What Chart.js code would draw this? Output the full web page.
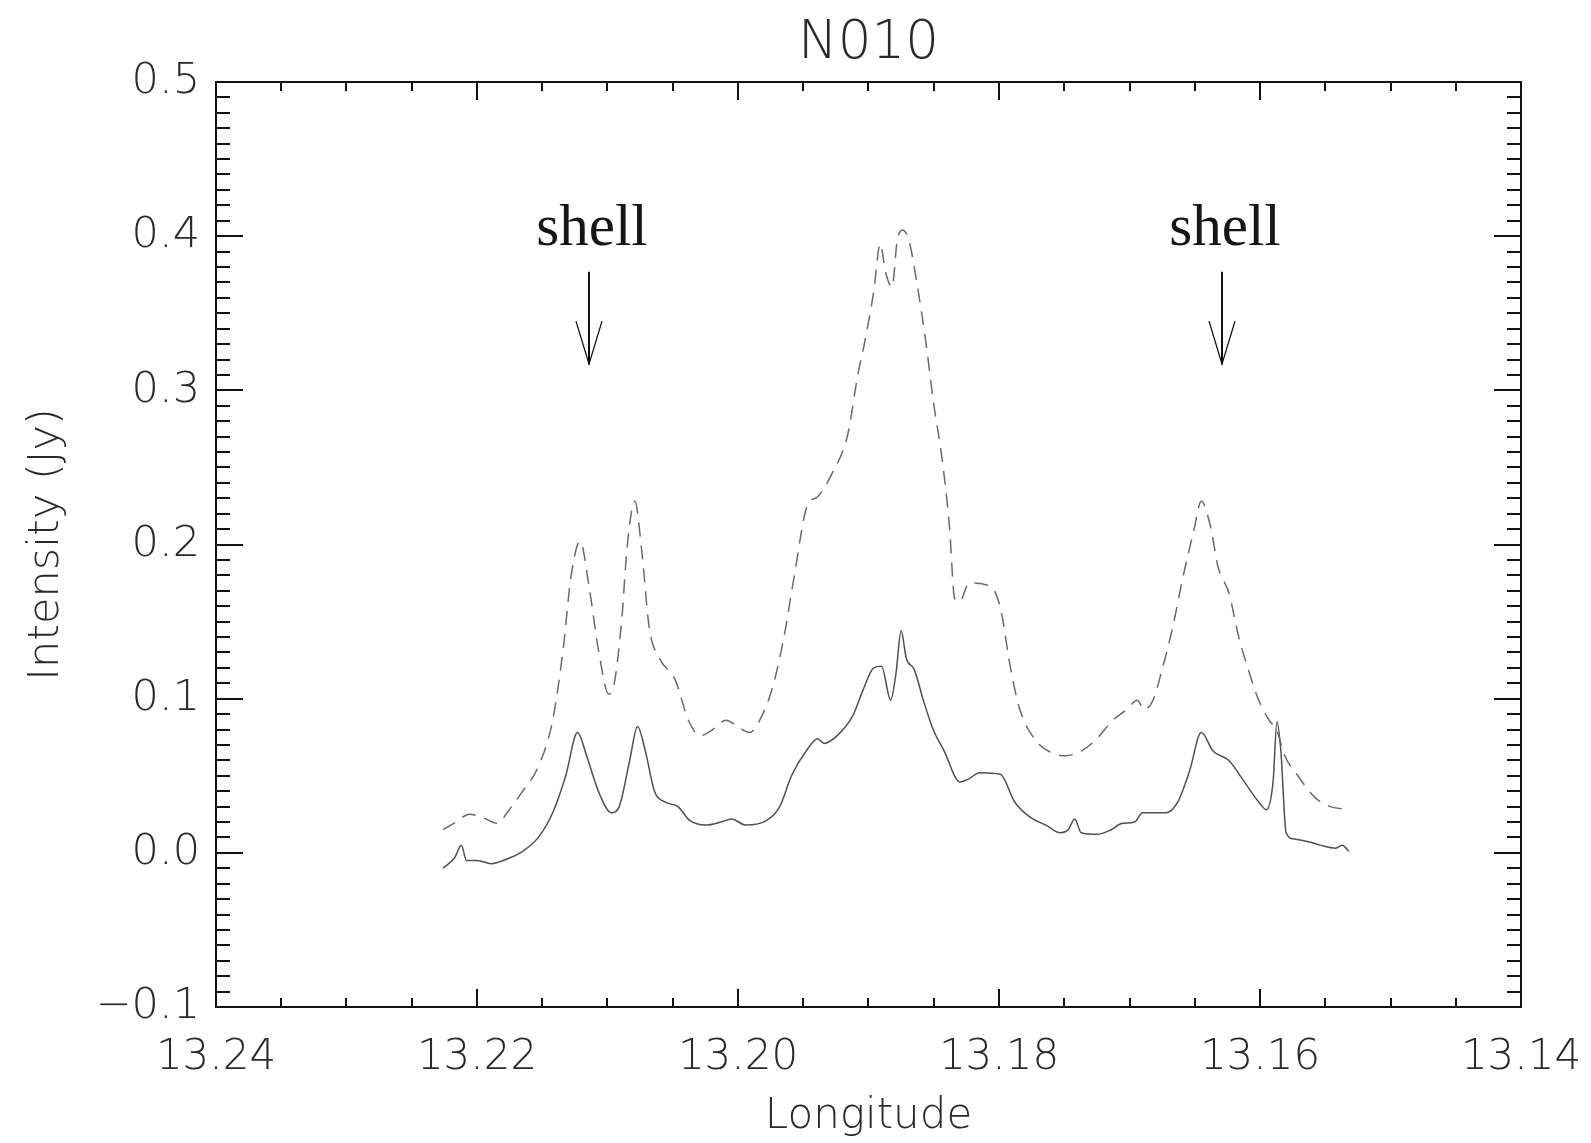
<!DOCTYPE html>
<html><head><meta charset="utf-8">
<script src="https://cdn.jsdelivr.net/npm/chart.js@4.4.1/dist/chart.umd.min.js"></script>
<style>html,body{margin:0;padding:0;background:#fff;}#wrap{width:1591px;height:1143px;position:relative;}</style>
</head><body><div id="wrap"><canvas id="c" width="1591" height="1143"></canvas></div>
<script>
const chartTitle = 'N010';
const xAxisTitle = 'Longitude';
const yAxisTitle = 'Intensity (Jy)';
const xRange = [13.14, 13.24];
const yRange = [-0.1, 0.5];

const solidLon = [13.2226,13.2217,13.2212,13.2208,13.2200,13.2189,13.2177,13.2165,13.2153,13.2142,13.2132,13.2123,13.2116,13.2107,13.2097,13.2091,13.2083,13.2077,13.2071,13.2064,13.2056,13.2046,13.2037,13.2025,13.2013,13.2005,13.1994,13.1978,13.1968,13.1959,13.1947,13.1939,13.1934,13.1924,13.1912,13.1904,13.1896,13.1890,13.1883,13.1879,13.1875,13.1871,13.1865,13.1858,13.1850,13.1842,13.1830,13.1823,13.1815,13.1799,13.1788,13.1776,13.1764,13.1753,13.1747,13.1742,13.1737,13.1725,13.1714,13.1706,13.1696,13.1690,13.1682,13.1672,13.1663,13.1654,13.1645,13.1636,13.1624,13.1612,13.1601,13.1595,13.1590,13.1587,13.1584,13.1580,13.1574,13.1562,13.1554,13.1542,13.1537,13.1532];
const solidInt = [-0.010,-0.003,0.005,-0.005,-0.005,-0.007,-0.004,0.001,0.010,0.026,0.050,0.078,0.063,0.040,0.026,0.030,0.060,0.082,0.066,0.040,0.033,0.030,0.021,0.018,0.020,0.022,0.018,0.021,0.030,0.050,0.067,0.074,0.071,0.076,0.089,0.106,0.120,0.121,0.099,0.116,0.144,0.126,0.119,0.099,0.079,0.066,0.046,0.048,0.052,0.051,0.033,0.023,0.018,0.013,0.015,0.022,0.013,0.012,0.015,0.019,0.020,0.026,0.026,0.026,0.033,0.053,0.078,0.066,0.060,0.046,0.033,0.028,0.046,0.085,0.066,0.013,0.009,0.007,0.005,0.003,0.005,0.001];

const dashLon = [13.2226,13.2216,13.2206,13.2196,13.2184,13.2177,13.2165,13.2153,13.2142,13.2134,13.2128,13.2121,13.2114,13.2107,13.2099,13.2095,13.2089,13.2085,13.2079,13.2074,13.2068,13.2060,13.2048,13.2038,13.2029,13.2021,13.2009,13.2002,13.1991,13.1984,13.1974,13.1965,13.1957,13.1947,13.1939,13.1928,13.1916,13.1908,13.1903,13.1896,13.1891,13.1887,13.1882,13.1878,13.1874,13.1869,13.1863,13.1856,13.1850,13.1844,13.1838,13.1834,13.1830,13.1823,13.1807,13.1799,13.1791,13.1784,13.1772,13.1760,13.1749,13.1737,13.1725,13.1714,13.1702,13.1694,13.1689,13.1682,13.1675,13.1667,13.1659,13.1651,13.1645,13.1638,13.1632,13.1624,13.1616,13.1609,13.1601,13.1593,13.1587,13.1581,13.1571,13.1558,13.1546,13.1532];
const dashInt = [0.015,0.020,0.025,0.023,0.019,0.026,0.040,0.056,0.086,0.132,0.179,0.202,0.172,0.132,0.103,0.109,0.152,0.198,0.228,0.198,0.146,0.126,0.112,0.086,0.076,0.079,0.086,0.083,0.078,0.085,0.106,0.139,0.179,0.225,0.231,0.246,0.271,0.311,0.331,0.364,0.395,0.377,0.367,0.397,0.404,0.397,0.370,0.331,0.291,0.258,0.212,0.165,0.163,0.175,0.173,0.159,0.119,0.093,0.073,0.065,0.063,0.066,0.074,0.085,0.093,0.099,0.093,0.099,0.119,0.146,0.179,0.208,0.228,0.212,0.185,0.169,0.139,0.119,0.099,0.086,0.079,0.063,0.050,0.036,0.030,0.028];

const shellText = ['shell', 'shell'];
const shellLon = [13.2114, 13.1629];

function pts(xs, ys) {
  const n = Math.min(xs.length, ys.length);
  const out = [];
  for (let i = 0; i < n; i++) out.push({x: xs[i], y: ys[i]});
  return out;
}

const framePlugin = {
  id: 'idlFrame',
  afterDraw(chart) {
    const {ctx, chartArea: a, scales} = chart;
    const xs = scales.x, ys = scales.y;
    ctx.save();
    ctx.strokeStyle = '#111';
    ctx.lineWidth = 2;
    ctx.strokeRect(a.left, a.top, a.right - a.left, a.bottom - a.top);
    ctx.beginPath();
    for (let i = 0; i <= 20; i++) {
      const v = xRange[0] + i * 0.005;
      const px = Math.round(xs.getPixelForValue(v));
      const len = (i % 4 === 0) ? 18 : 9;
      ctx.moveTo(px, a.bottom); ctx.lineTo(px, a.bottom - len);
      ctx.moveTo(px, a.top); ctx.lineTo(px, a.top + len);
    }
    for (let i = 0; i <= 60; i++) {
      const v = yRange[0] + i * 0.01;
      const py = Math.round(ys.getPixelForValue(v));
      const len = (i % 10 === 0) ? 27 : 14;
      ctx.moveTo(a.left, py); ctx.lineTo(a.left + len, py);
      ctx.moveTo(a.right, py); ctx.lineTo(a.right - len, py);
    }
    ctx.stroke();
    for (let i = 0; i < shellLon.length; i++) {
      const px = Math.round(xs.getPixelForValue(shellLon[i]));
      const top = ys.getPixelForValue(0.377);
      const bot = ys.getPixelForValue(0.317);
      ctx.strokeStyle = '#111';
      ctx.lineWidth = 2;
      ctx.beginPath();
      ctx.moveTo(px, top); ctx.lineTo(px, bot);
      ctx.stroke();
      ctx.lineWidth = 1.3;
      ctx.beginPath();
      ctx.moveTo(px - 13, bot - 43); ctx.lineTo(px, bot); ctx.lineTo(px + 13, bot - 43);
      ctx.stroke();
      ctx.fillStyle = '#151515';
      ctx.font = '59px "Liberation Serif"';
      ctx.textAlign = 'center';
      ctx.textBaseline = 'alphabetic';
      ctx.fillText(shellText[i], px + 3, top - 27);
    }
    ctx.restore();
  }
};

const tickFont = {family: 'DejaVu Sans', size: 42, weight: 200};
new Chart(document.getElementById('c'), {
  type: 'scatter',
  data: {
    datasets: [
      {label: 'dashed', data: pts(dashLon, dashInt), showLine: true, borderColor: '#6a6a6a', borderWidth: 1.5, borderDash: [14, 9], pointRadius: 0, cubicInterpolationMode: 'monotone', fill: false},
      {label: 'solid', data: pts(solidLon, solidInt), showLine: true, borderColor: '#505050', borderWidth: 1.5, pointRadius: 0, cubicInterpolationMode: 'monotone', fill: false}
    ]
  },
  options: {
    responsive: false,
    animation: false,
    devicePixelRatio: 1,
    layout: {padding: {left: 0, right: 70, top: 0, bottom: 0}},
    plugins: {
      legend: {display: false},
      tooltip: {enabled: false},
      title: {display: true, text: chartTitle, fullSize: false, color: '#2a2a2a',
              font: {family: 'DejaVu Sans', size: 53, weight: 200, lineHeight: 1},
              padding: {top: 18, bottom: 11}}
    },
    scales: {
      x: {
        type: 'linear', min: xRange[0], max: xRange[1], reverse: true, position: 'bottom',
        grid: {display: false, drawTicks: false},
        border: {display: false},
        ticks: {stepSize: 0.02, autoSkip: false, maxRotation: 0, padding: 26, color: '#2a2a2a', font: tickFont,
                callback: v => Number(v).toFixed(2)},
        title: {display: true, text: xAxisTitle, color: '#2a2a2a', font: {family: 'DejaVu Sans', size: 42, weight: 200, lineHeight: 1.2}, padding: {top: 0, bottom: 1}},
        afterFit: s => { s.height = 136; s.paddingLeft = 0; s.paddingRight = 0; }
      },
      y: {
        type: 'linear', min: yRange[0], max: yRange[1], position: 'left',
        grid: {display: false, drawTicks: false},
        border: {display: false},
        ticks: {stepSize: 0.1, autoSkip: false, padding: 16, color: '#2a2a2a', font: {family: 'DejaVu Sans', size: 43, weight: 200},
                callback: v => Math.abs(v) < 1e-9 ? '0.0' : (v < 0 ? '\u2212' + Math.abs(v).toFixed(1) : v.toFixed(1))},
        title: {display: true, text: yAxisTitle, color: '#2a2a2a', font: {family: 'DejaVu Sans', size: 43, weight: 200, lineHeight: 1.2}, padding: {top: 21, bottom: 0}},
        afterFit: s => { s.width = 216; s.paddingTop = 0; s.paddingBottom = 0; }
      }
    }
  },
  plugins: [framePlugin]
});
</script>
</body></html>
